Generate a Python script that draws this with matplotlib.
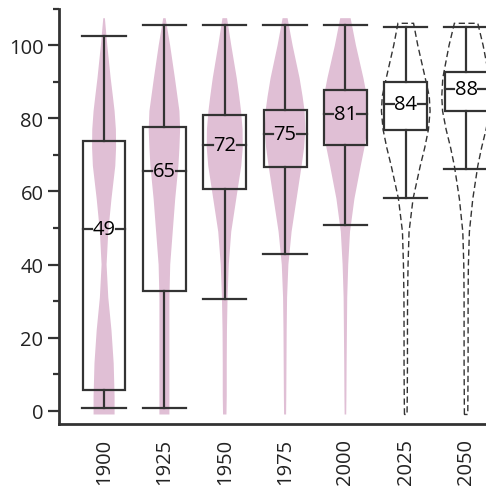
import numpy as np
import matplotlib.pyplot as plt

years = ['1900', '1925', '1950', '1975', '2000', '2025', '2050']
projected = [False, False, False, False, False, True, True]

# box statistics
whislo = [0.7, 0.7, 30.7, 42.8, 50.8, 58.1, 66.2]
q1 = [5.6, 32.8, 60.7, 66.7, 72.6, 76.9, 81.9]
medians = [49.6, 65.5, 72.6, 75.6, 81.3, 83.9, 88.0]
q3 = [73.7, 77.6, 80.8, 82.4, 87.7, 89.9, 92.8]
whishi = [102.6, 105.4, 105.4, 105.4, 105.4, 104.9, 104.9]
median_labels = ['49', '65', '72', '75', '81', '84', '88']

# violin outline: relative half-width at each level (last level is the top of each violin)
violin_levels = [-1, 4, 13, 22, 31, 40, 49, 58, 67, 72, 77, 82, 86, 91, 100]
violin_top = [107.4, 107.4, 107.4, 107.4, 107.4, 106.0, 106.0]
violin_width = [
    [10.5, 10.5, 9.6, 7.4, 4.2, 2.5, 4.2, 7.4, 11.2, 12.0, 11.8, 10.5, 8.8, 6.6, 3.2, 0.8],
    [5.0, 5.0, 5.0, 5.0, 5.0, 5.8, 8.3, 10.8, 14.0, 15.0, 15.7, 15.0, 13.0, 10.5, 5.7, 1.2],
    [1.7, 2.0, 2.0, 2.2, 2.8, 4.0, 6.5, 11.5, 16.5, 18.0, 17.8, 16.3, 14.5, 12.0, 6.5, 2.3],
    [1.0, 1.2, 1.4, 1.6, 2.0, 3.3, 6.5, 11.5, 16.5, 19.0, 20.3, 19.5, 17.5, 14.5, 7.5, 2.5],
    [0.8, 1.0, 1.2, 1.5, 1.8, 2.8, 4.6, 9.0, 15.3, 19.0, 22.0, 22.5, 21.5, 18.0, 10.5, 5.2],
    [1.3, 1.5, 1.7, 1.7, 1.8, 2.3, 3.3, 7.3, 14.5, 19.0, 22.7, 24.3, 23.5, 19.5, 12.0, 7.8],
    [1.7, 1.8, 2.0, 2.0, 2.0, 2.3, 3.3, 6.7, 11.7, 15.5, 20.0, 23.5, 24.3, 23.3, 17.0, 11.7],
]

pink = '#e0bfd5'
dark = '#333333'
width_scale = 1 / 60.3

plt.rcParams['font.family'] = ['Open Sans', 'DejaVu Sans']

fig = plt.figure(figsize=(4.86, 4.89), dpi=100)
ax = fig.add_axes([0.1208, 0.1309, 0.8792, 0.8493])

pos = np.arange(len(years))

for i in range(len(years)):
    y = np.array(violin_levels + [violin_top[i]], dtype=float)
    w = np.array(violin_width[i]) * width_scale
    if projected[i]:
        xs = np.concatenate([pos[i] - w, (pos[i] + w)[::-1]])
        ys = np.concatenate([y, y[::-1]])
        ax.fill(xs, ys, facecolor='none', edgecolor=dark, linestyle=(0, (4.5, 2.5)),
                linewidth=1.0, zorder=1)
    else:
        ax.fill_betweenx(y, pos[i] - w, pos[i] + w, facecolor=pink, edgecolor='none', zorder=1)

stats = []
for i in range(len(years)):
    stats.append(dict(whislo=whislo[i], q1=q1[i], med=medians[i], q3=q3[i],
                      whishi=whishi[i], fliers=[]))

line = dict(color=dark, linewidth=1.6)
bp = ax.bxp(stats, positions=pos, widths=0.71, capwidths=0.72, patch_artist=True,
            showfliers=False, boxprops=dict(edgecolor=dark, linewidth=1.6),
            whiskerprops=line, capprops=line, medianprops=dict(linewidth=0),
            manage_ticks=False, zorder=3)
for i, box in enumerate(bp['boxes']):
    box.set_facecolor('white' if projected[i] else 'none')

gap = 0.2
for i in range(len(years)):
    ax.plot([pos[i] - 0.355, pos[i] - gap], [medians[i]] * 2, color=dark, lw=1.6, zorder=4)
    ax.plot([pos[i] + gap, pos[i] + 0.355], [medians[i]] * 2, color=dark, lw=1.6, zorder=4)
    ax.text(pos[i], medians[i], median_labels[i], ha='center', va='center',
            fontsize=14.5, color='black', zorder=5)

ax.set_xlim(-0.752, 6.33)
ax.set_ylim(-3.6, 110)
ax.set_xticks(pos)
ax.set_xticklabels(years, rotation=90)
ax.set_yticks([0, 20, 40, 60, 80, 100])
ax.set_yticks([10, 30, 50, 70, 90, 110], minor=True)
ax.tick_params(axis='x', length=0, pad=10, labelsize=14.5, labelcolor='#222222')
ax.tick_params(axis='y', which='major', length=8, width=1.6, color=dark,
               labelsize=14.5, labelcolor='#222222', pad=3)
ax.tick_params(axis='y', which='minor', length=4, width=1.6, color=dark)
for side in ['top', 'right']:
    ax.spines[side].set_visible(False)
for side in ['left', 'bottom']:
    ax.spines[side].set_linewidth(2)
    ax.spines[side].set_color(dark)

fig.savefig('out.png', dpi=100)
